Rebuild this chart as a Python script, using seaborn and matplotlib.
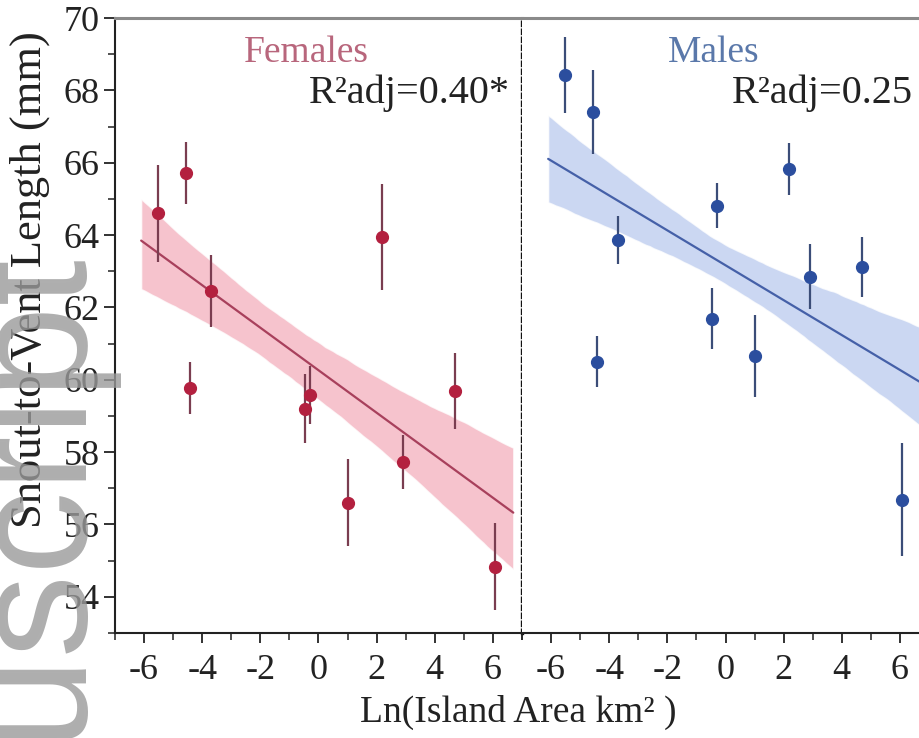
import numpy as np
import pandas as pd
import matplotlib
matplotlib.use("Agg")
import matplotlib.pyplot as plt
from matplotlib.ticker import MultipleLocator
import seaborn as sns

# ---- data ----
ln_area = [-5.52, -4.57, -4.43, -3.69, -0.48, -0.29, 1.00, 2.18, 2.90, 4.68, 6.07]
female_svl = [64.60, 65.72, 59.78, 62.46, 59.20, 59.59, 56.60, 63.95, 57.73, 59.70, 54.83]
female_err = [1.35, 0.85, 0.72, 1.00, 0.95, 0.80, 1.20, 1.47, 0.75, 1.05, 1.20]
male_svl = [68.43, 67.40, 60.50, 63.87, 61.69, 64.81, 60.66, 65.83, 62.85, 63.12, 56.69]
male_err = [1.05, 1.15, 0.70, 0.67, 0.85, 0.62, 1.13, 0.72, 0.90, 0.83, 1.57]
panel_titles = ["Females", "Males"]
r2_labels = ["R²adj=0.40*", "R²adj=0.25"]
x_ticks = [-6, -4, -2, 0, 2, 4, 6]
y_ticks = [54, 56, 58, 60, 62, 64, 66, 68, 70]

sns.set_style("ticks")
plt.rcParams["font.family"] = ["Liberation Serif", "DejaVu Serif"]
plt.rcParams["axes.unicode_minus"] = False

W, H = 920, 738
fig = plt.figure(figsize=(W / 100, H / 100), dpi=100)

def fx(px):
    return px / W

def fy(py):
    return 1 - py / H

ax_l, ax_b, ax_w, ax_h, ax_t = 115, 633, 407, 615, 18
ax1 = fig.add_axes([fx(ax_l), fy(ax_b), fx(ax_w), ax_h / H])
ax2 = fig.add_axes([fx(ax_l + ax_w), fy(ax_b), fx(ax_w), ax_h / H], sharey=ax1)

styles = [
    dict(pt="#B3203F", ecol="#7a3d50", line="#A8405C", band="#F4AFBD",
         title="#B8667C", ci=68),
    dict(pt="#2B4E9E", ecol="#3b4d78", line="#4560A8", band="#BACAEE",
         title="#5A78AA", ci=50),
]
datasets = [(female_svl, female_err), (male_svl, male_err)]

def ax_frac_y(py):
    return 1 - (py - ax_t) / ax_h

for ax, (yv, ye), st, ttl in zip([ax1, ax2], datasets, styles, panel_titles):
    df = pd.DataFrame({"x": ln_area, "y": yv, "e": ye})
    ax.set_xlim(-6.1, 6.7)
    sns.regplot(data=df, x="x", y="y", ax=ax, scatter=False, ci=st["ci"], n_boot=2000,
                seed=3, truncate=False,
                line_kws=dict(color=st["line"], lw=1.6, zorder=2))
    band = ax.collections[-1]
    band.set_facecolor(st["band"])
    band.set_alpha(0.75)
    band.set_zorder(1)
    ax.errorbar(df["x"], df["y"], yerr=df["e"], fmt="o", color=st["pt"],
                ecolor=st["ecol"], elinewidth=1.6, ms=8.5, capsize=0, zorder=3)
    ax.set_xlim(-7, 7)
    ax.set_ylim(53, 70)
    ax.set_xlabel("")
    ax.set_ylabel("")
    ax.set_xticks(x_ticks)
    ax.xaxis.set_minor_locator(MultipleLocator(1))
    ax.tick_params(axis="x", which="major", direction="out", length=7, width=1.3,
                   labelsize=26, colors="#222222", pad=8)
    ax.tick_params(axis="x", which="minor", direction="out", length=5, width=1.1,
                   colors="#222222")
    ax.text(0.47, ax_frac_y(62), ttl, transform=ax.transAxes, ha="center",
            va="baseline", fontsize=27, color=st["title"])
    ax.spines["top"].set_color("#8a8a8a")
    ax.spines["top"].set_linewidth(2.2)
    ax.spines["bottom"].set_color("#222222")
    ax.spines["bottom"].set_linewidth(1.5)

ax1.text((510 - ax_l) / ax_w, ax_frac_y(103), r2_labels[0],
         transform=ax1.transAxes, ha="right", va="baseline", fontsize=29, color="#222222")
ax2.text((913 - ax_l - ax_w) / ax_w, ax_frac_y(103), r2_labels[1],
         transform=ax2.transAxes, ha="right", va="baseline", fontsize=29, color="#222222")

ax1.set_yticks(y_ticks)
ax1.yaxis.set_minor_locator(MultipleLocator(1))
ax1.tick_params(axis="y", which="major", direction="out", length=8, width=1.3,
                labelsize=26, colors="#222222", pad=3)
ax1.tick_params(axis="y", which="minor", direction="out", length=5, width=1.1,
                colors="#222222")
ax1.spines["left"].set_color("#222222")
ax1.spines["left"].set_linewidth(1.5)
ax1.spines["right"].set_visible(True)
ax1.spines["right"].set_linestyle((0, (1, 1.4)))
ax1.spines["right"].set_linewidth(2.4)
ax1.spines["right"].set_color("#111111")

ax2.spines["left"].set_visible(False)
ax2.spines["right"].set_visible(False)
ax2.tick_params(axis="y", which="both", left=False, labelleft=False)

fig.text(fx(518), fy(712), "Ln(Island Area km² )", ha="center", va="center",
         fontsize=27, color="#222222")
fig.text(fx(30), fy(280), "Snout-to-Vent Length (mm)", rotation=90, ha="center",
         va="center", fontsize=32, color="#222222")

# watermark present in the reference image (partly outside the figure)
fig.text(fx(73), fy(245), "Manuscript", rotation=90, rotation_mode="anchor",
         ha="right", va="baseline", fontsize=120,
         family="Liberation Sans", color="#9a9a9a", alpha=0.8, zorder=10)

fig.savefig("out.png", dpi=100)
